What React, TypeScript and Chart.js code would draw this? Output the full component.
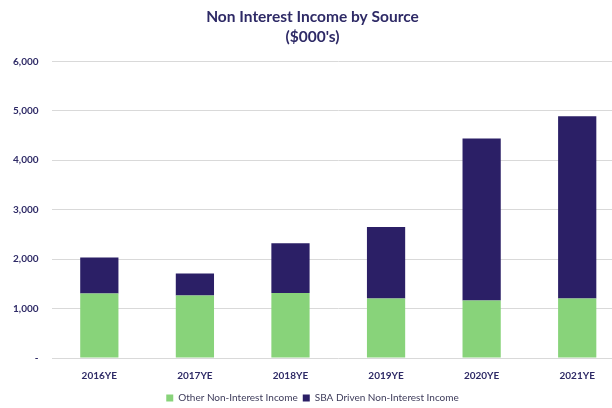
import React, { useEffect, useRef } from "react";
import { Chart, registerables } from "chart.js";

Chart.register(...registerables);

const categories = ["2016YE", "2017YE", "2018YE", "2019YE", "2020YE", "2021YE"];
const otherIncome = [1305, 1265, 1315, 1205, 1165, 1205];
const sbaIncome = [725, 445, 1005, 1445, 3275, 3685];
const yTickValues = [0, 1000, 2000, 3000, 4000, 5000, 6000];
const titleLines = ["Non Interest Income by Source", "($000's)"];
const seriesNames = ["Other Non-Interest Income", "SBA Driven Non-Interest Income"];

const NAVY = "#2B1F66";
const GREEN = "#88D37A";
const TEXT = "#2E2A66";
const FONT = "Lato, 'Open Sans', sans-serif";

export default function App() {
  const ref = useRef<HTMLCanvasElement | null>(null);

  useEffect(() => {
    if (!ref.current) return;
    const chart = new Chart(ref.current, {
      type: "bar",
      data: {
        labels: categories,
        datasets: [
          {
            label: seriesNames[0],
            data: otherIncome,
            backgroundColor: GREEN,
            barPercentage: 0.4,
            categoryPercentage: 1,
          },
          {
            label: seriesNames[1],
            data: sbaIncome,
            backgroundColor: NAVY,
            barPercentage: 0.4,
            categoryPercentage: 1,
          },
        ],
      },
      options: {
        responsive: false,
        animation: false,
        maintainAspectRatio: false,
        layout: { padding: { left: 0, right: 0, top: 4, bottom: -5 } },
        plugins: {
          title: {
            display: true,
            text: titleLines,
            color: TEXT,
            font: { family: FONT, size: 15.5, weight: "bold", lineHeight: 1.3 },
            padding: { top: 3, bottom: 14 },
          },
          legend: {
            position: "bottom",
            labels: {
              color: "#3d3b5a",
              font: { family: FONT, size: 10 },
              boxWidth: 7,
              boxHeight: 7,
              padding: 5,
            },
          },
          tooltip: { enabled: false },
        },
        scales: {
          x: {
            stacked: true,
            grid: { display: false, drawTicks: false },
            border: { display: false },
            ticks: {
              color: TEXT,
              font: { family: FONT, size: 10, weight: "bold" },
              padding: 12,
            },
            afterFit: (axis: any) => {
              axis.height = 30;
            },
          },
          y: {
            stacked: true,
            min: 0,
            max: 6000,
            afterBuildTicks: (axis: any) => {
              axis.ticks = yTickValues.map((v) => ({ value: v }));
            },
            grid: { color: "#D9D9D9", drawTicks: false, lineWidth: 1 },
            border: { display: false },
            ticks: {
              color: TEXT,
              font: { family: FONT, size: 10, weight: "bold" },
              padding: 13,
              callback: (v: any) => (Number(v) === 0 ? "-" : Number(v).toLocaleString("en-US")),
            },
          },
        },
      },
    });
    return () => chart.destroy();
  }, []);

  return (
    <div
      style={{
        position: "fixed",
        left: 0,
        top: 0,
        width: 612,
        height: 408,
        overflow: "hidden",
        background: "#fff",
      }}
    >
      <canvas ref={ref} width={625} height={408} style={{ display: "block" }} />
    </div>
  );
}
